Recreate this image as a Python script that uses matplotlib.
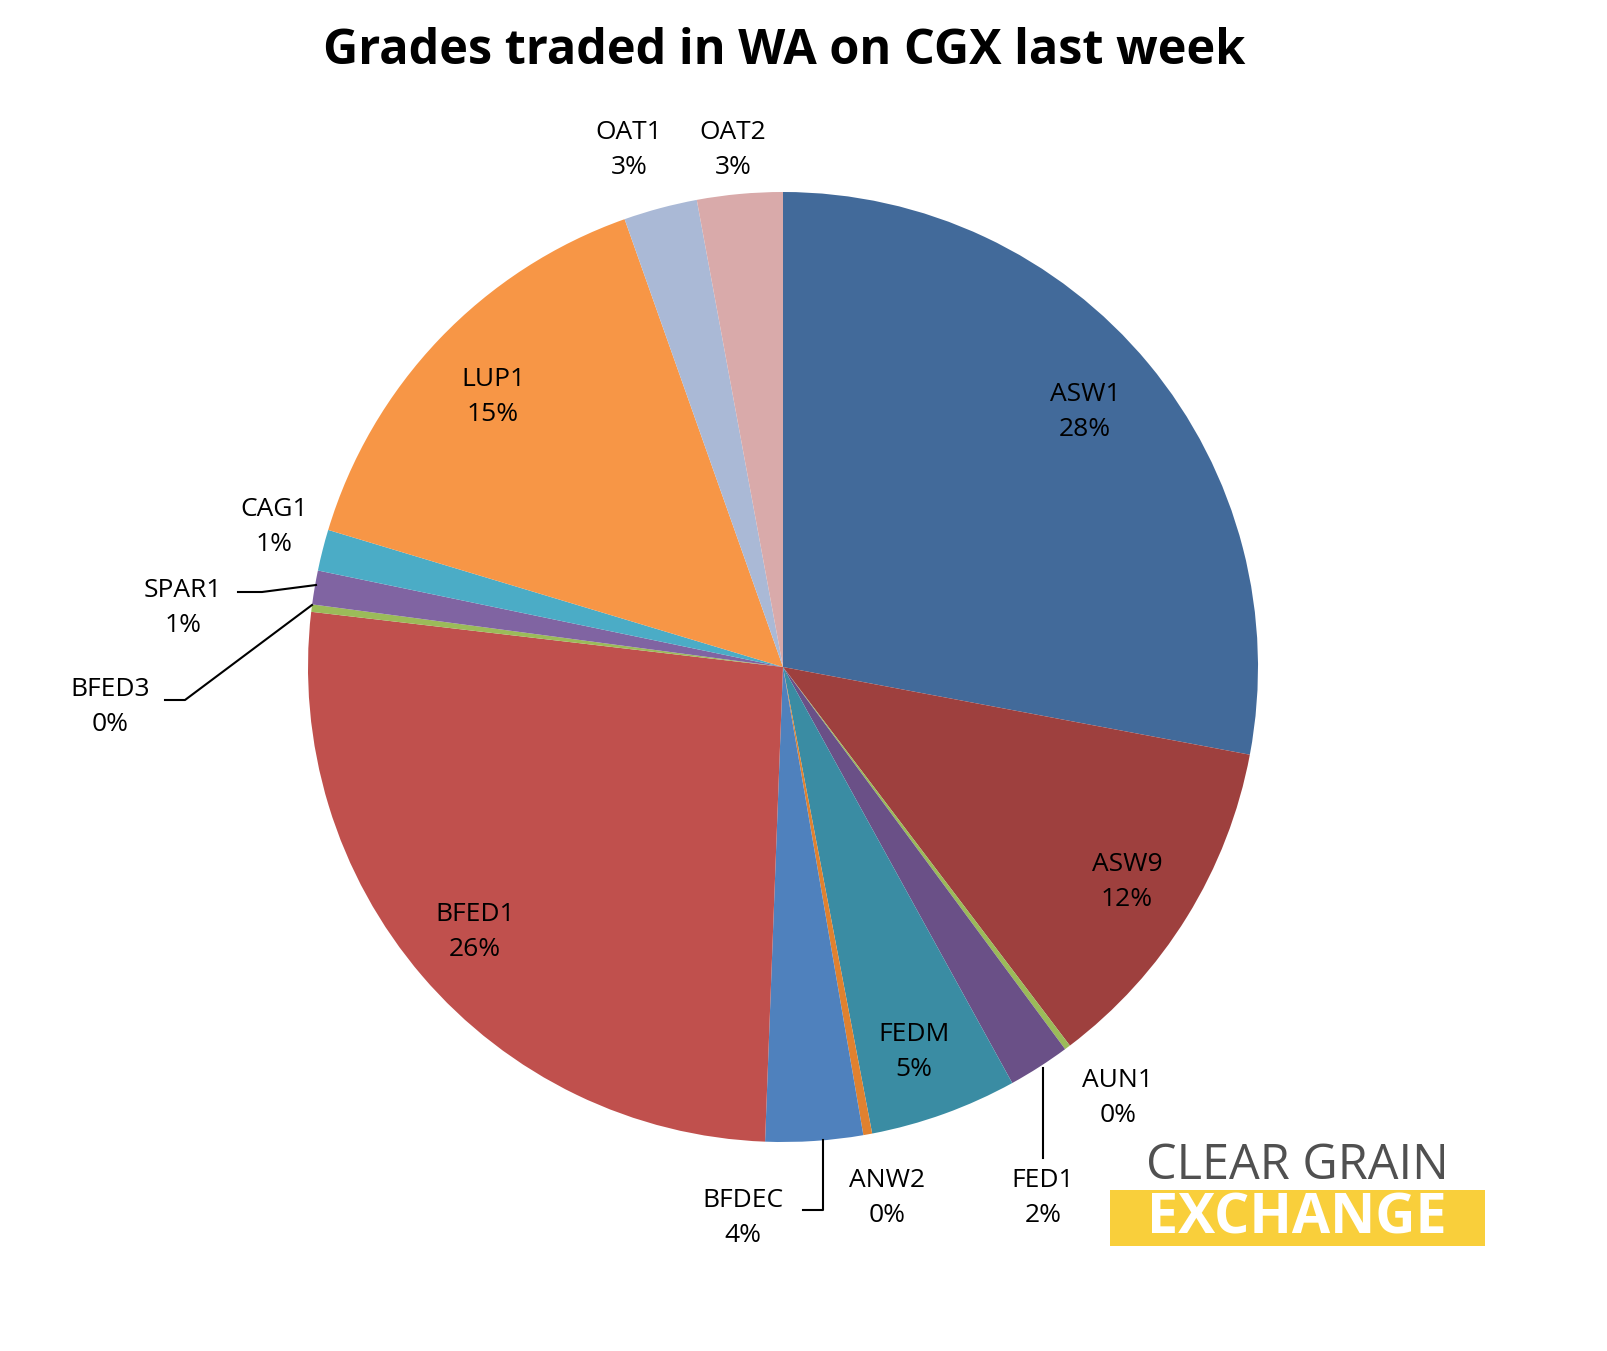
import matplotlib.pyplot as plt
from matplotlib.patches import Rectangle

plt.rcParams['font.family'] = ['Open Sans', 'DejaVu Sans']

grades = ['ASW1', 'ASW9', 'AUN1', 'FED1', 'FEDM', 'ANW2', 'BFDEC', 'BFED1',
          'BFED3', 'SPAR1', 'CAG1', 'LUP1', 'OAT1', 'OAT2']
shares = [27.9, 11.7, 0.2, 2.1, 5.0, 0.3, 3.3, 26.2, 0.25, 1.15, 1.4, 14.9, 2.5, 2.9]
pct_labels = ['28%', '12%', '0%', '2%', '5%', '0%', '4%', '26%', '0%', '1%', '1%', '15%', '3%', '3%']
colors = ['#426A9A', '#9E403E', '#9BBB59', '#6A5087', '#3A8CA3', '#E0812F', '#4F81BD',
          '#C0504D', '#9BBB59', '#8064A2', '#4BACC6', '#F79646', '#AAB9D6', '#D9AAAA']

W, H = 1608, 1351
CX, CY, R = 783, 667, 475

fig = plt.figure(figsize=(W / 100, H / 100), dpi=100)

pax = fig.add_axes([(CX - R) / W, 1 - (CY + R) / H, 2 * R / W, 2 * R / H])
pax.pie(shares, colors=colors, startangle=90, counterclock=False, radius=1,
        wedgeprops=dict(linewidth=0))
pax.set_xlim(-1, 1)
pax.set_ylim(-1, 1)
pax.set_aspect('equal')
pax.axis('off')

# overlay in pixel coords for labels, leaders, title and logo
ax = fig.add_axes([0, 0, 1, 1])
ax.patch.set_alpha(0)
ax.set_xlim(0, W)
ax.set_ylim(H, 0)
ax.axis('off')

label_pos = {
    'ASW1': (1085, 412), 'ASW9': (1127, 882), 'AUN1': (1118, 1098),
    'FED1': (1043, 1198), 'FEDM': (914, 1052), 'ANW2': (887, 1198),
    'BFDEC': (743, 1218), 'BFED1': (475, 932), 'BFED3': (110, 707),
    'SPAR1': (183, 608), 'CAG1': (274, 527), 'LUP1': (493, 397),
    'OAT1': (629, 150), 'OAT2': (733, 150),
}
for g, p in zip(grades, pct_labels):
    x, y = label_pos[g]
    ax.text(x, y, f'{g}\n{p}', ha='center', va='center', fontsize=19,
            linespacing=1.55, color='black')

leaders = [
    [(1043, 1068), (1043, 1158)],
    [(823, 1140), (823, 1210), (803, 1210)],
    [(312, 605), (185, 700), (165, 700)],
    [(316, 585), (262, 592), (238, 592)],
]
for pts in leaders:
    xs, ys = zip(*pts)
    ax.plot(xs, ys, color='black', lw=1.5)

ax.text(W / 2 - 20, 52, 'Grades traded in WA on CGX last week', ha='center', va='center',
        fontsize=35, fontweight='bold')

# logo
ax.text(1297, 1166, 'CLEAR GRAIN', ha='center', va='center',
        fontsize=35, color='#505050')
ax.add_patch(Rectangle((1110, 1190), 375, 56, color='#F9CF3B', lw=0))
ax.text(1297, 1219, 'EXCHANGE', ha='center', va='center', fontsize=40,
        fontweight='bold', color='white')

fig.savefig('out.png', dpi=100)
